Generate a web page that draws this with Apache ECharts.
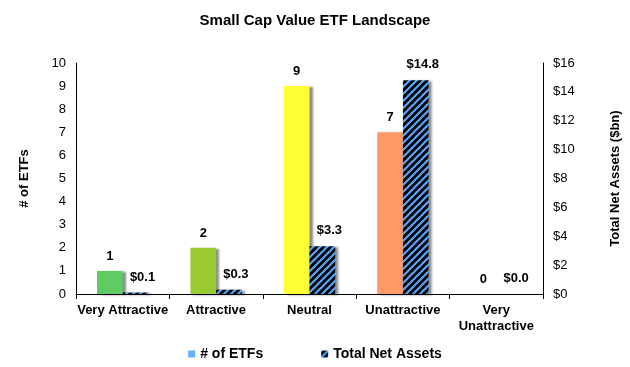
<!DOCTYPE html>
<html><head><meta charset="utf-8">
<script src="https://cdn.jsdelivr.net/npm/echarts@6/dist/echarts.min.js"></script>
<style>html,body{margin:0;padding:0;background:#fff}#c{width:630px;height:367px}</style>
</head><body><div id="c"></div>
<script>
var categories = ['Very Attractive', 'Attractive', 'Neutral', 'Unattractive', 'Very\nUnattractive'];
var etfCounts = [1, 2, 9, 7, 0];
var netAssets = [0.1, 0.3, 3.3, 14.8, 0.0];
var leftTicks = [0, 10, 1];
var rightTicks = [0, 16, 2];
var barColors = ['#5ECC62', '#99CC33', '#FFFF33', '#FF9966', '#BFBFBF'];

var font = '"Liberation Sans", Arial, sans-serif';
var shadow = {shadowColor: 'rgba(0,0,0,0.45)', shadowBlur: 2, shadowOffsetX: 3, shadowOffsetY: 1};

// hatch pattern tile: black background with blue "/" stripes
var tile = document.createElement('canvas');
var T = 7;
tile.width = T; tile.height = T;
var g = tile.getContext('2d');
g.fillStyle = '#000';
g.fillRect(0, 0, T, T);
g.strokeStyle = '#55A8FF';
g.lineWidth = 2.2;
[-T, 0, T].forEach(function (o) {
  g.beginPath();
  g.moveTo(o - 1, T + 1);
  g.lineTo(o + T + 1, -1);
  g.stroke();
});
var hatch = {image: tile, repeat: 'repeat'};

var chart = echarts.init(document.getElementById('c'));
chart.setOption({
  animation: false,
  title: {text: 'Small Cap Value ETF Landscape', left: 'center', top: 8,
    textStyle: {fontFamily: font, fontSize: 15, fontWeight: 'bold', color: '#000'}},
  grid: {left: 76, right: 85, top: 63, bottom: 73},
  legend: {bottom: 1, left: 'center', icon: 'rect', itemWidth: 7, itemHeight: 7, itemGap: 58,
    textStyle: {fontFamily: font, fontSize: 14, fontWeight: 'bold', color: '#000'},
    data: ['# of ETFs', 'Total Net Assets']},
  xAxis: {type: 'category', data: categories,
    axisLine: {lineStyle: {color: '#000', width: 1}},
    axisTick: {show: true, length: 5, lineStyle: {color: '#000'}},
    axisLabel: {fontFamily: font, fontSize: 13, fontWeight: 'bold', color: '#000', margin: 8, lineHeight: 16, interval: 0}},
  yAxis: [
    {type: 'value', min: leftTicks[0], max: leftTicks[1], interval: leftTicks[2],
      name: '# of ETFs', nameLocation: 'middle', nameGap: 45, nameRotate: 90,
      nameTextStyle: {fontFamily: font, fontSize: 13, fontWeight: 'bold', color: '#000'},
      axisLine: {show: true, lineStyle: {color: '#000'}}, axisTick: {show: false},
      splitLine: {show: false},
      axisLabel: {fontFamily: font, fontSize: 13, color: '#000', margin: 10}},
    {type: 'value', min: rightTicks[0], max: rightTicks[1], interval: rightTicks[2],
      name: 'Total Net Assets ($bn)', nameLocation: 'middle', nameGap: 66, nameRotate: 90,
      nameTextStyle: {fontFamily: font, fontSize: 13, fontWeight: 'bold', color: '#000'},
      axisLine: {show: true, lineStyle: {color: '#000'}}, axisTick: {show: false},
      splitLine: {show: false},
      axisLabel: {fontFamily: font, fontSize: 13, color: '#000', margin: 10,
        formatter: function (v) { return '$' + v; }}}
  ],
  series: [
    {name: '# of ETFs', type: 'bar', yAxisIndex: 0, barGap: '0%', barCategoryGap: '45%',
      itemStyle: Object.assign({color: '#6AAEF5'}, shadow),
      data: etfCounts.map(function (v, i) {
        return {value: v, itemStyle: Object.assign({color: barColors[i]}, shadow)};
      }),
      label: {show: true, position: 'top', distance: 8, fontFamily: font, fontSize: 13,
        fontWeight: 'bold', color: '#000'}},
    {name: 'Total Net Assets', type: 'bar', yAxisIndex: 1,
      itemStyle: Object.assign({color: hatch}, shadow),
      data: netAssets,
      label: {show: true, position: 'top', distance: 9, offset: [7, 0], fontFamily: font,
        fontSize: 13, fontWeight: 'bold', color: '#000',
        formatter: function (p) { return '$' + p.value.toFixed(1); }}}
  ]
});
</script></body></html>
